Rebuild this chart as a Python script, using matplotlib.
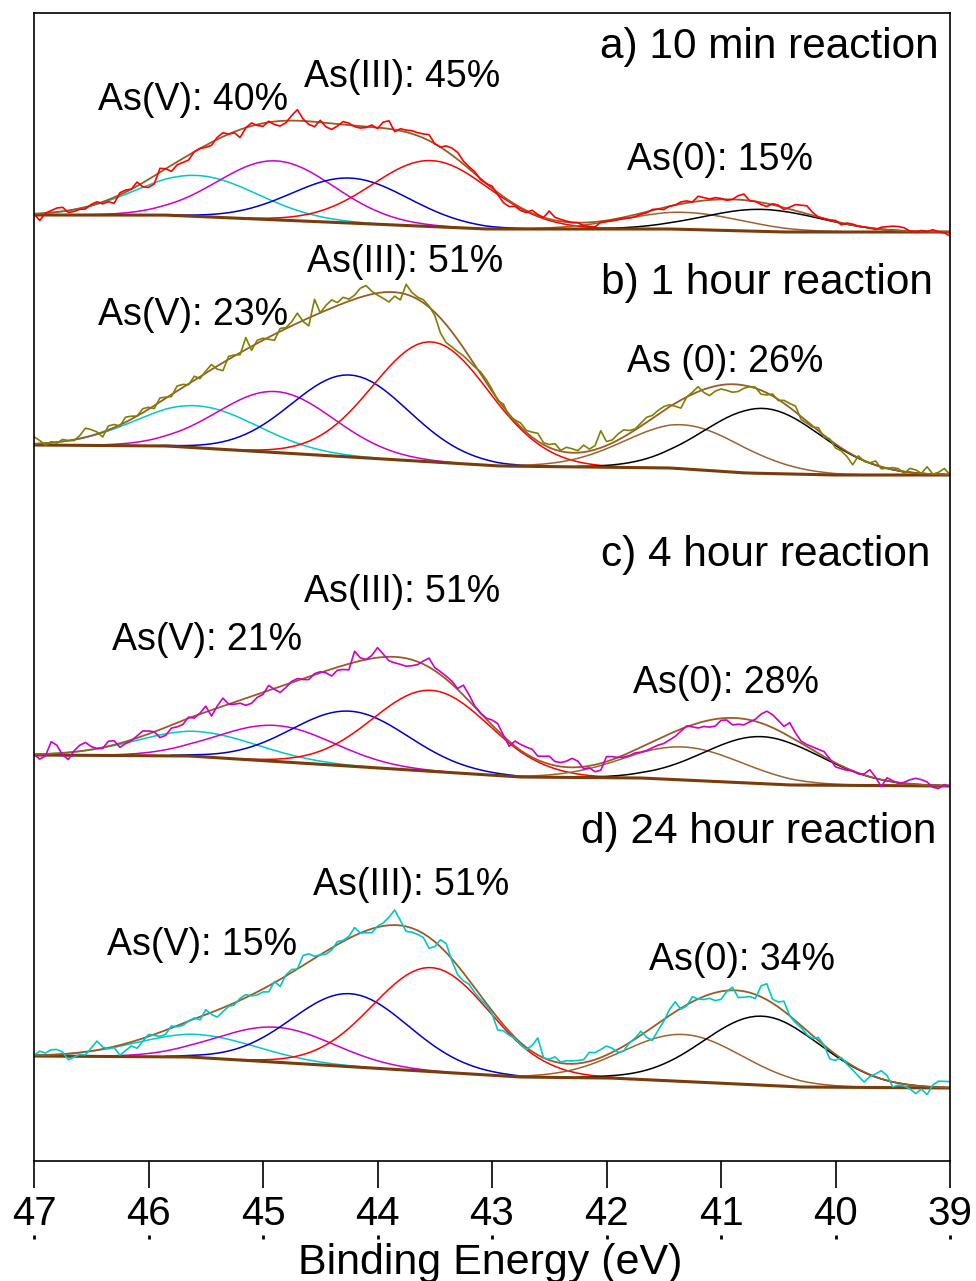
import numpy as np
import matplotlib.pyplot as plt

plt.rcParams['font.family'] = ['Liberation Sans', 'DejaVu Sans']

# binding energy grid of the scans (eV), 0.05 eV steps from 47 down to 39
energy = np.round(47.0 - 0.05 * np.arange(161), 2)

# As 3d fit components: As(V) 3d3/2, As(V) 3d5/2, As(III) 3d3/2, As(III) 3d5/2, As(0) 3d3/2, As(0) 3d5/2
peak_centres = [45.58, 44.89, 44.24, 43.53, 41.33, 40.64]
peak_fwhm = [1.25, 1.2, 1.2, 1.2, 1.2, 1.2]
peak_colours = ['#00c8c8', '#cc00cc', '#0000cc', '#ff0000', '#a0622d', '#000000']

# fitted peak heights (counts above background) for each reaction time
heights_10min = [41, 59, 45, 66, 17, 22]
heights_1h = [42, 61, 82, 120, 44, 65]
heights_4h = [25, 36, 55, 81, 33, 47]
heights_24h = [23, 35, 73, 104, 47, 69]

# Shirley-type background, relative to its level at 47 eV
bg_energy_10min = [47, 45.87, 43.04, 41.44, 40.44, 39]
bg_10min = [0, 0, -14, -14, -17, -17]
bg_energy_1h = [47, 45.84, 42.93, 41.44, 40.78, 40.02, 39]
bg_1h = [0, -1, -21, -23, -28, -30, -30]
bg_energy_4h = [47, 45.64, 42.75, 41.70, 40.39, 39]
bg_4h = [0, -1, -22, -23, -30, -31]
bg_energy_24h = [47, 45.64, 42.75, 41.97, 40.30, 39]
bg_24h = [0, -1, -21, -22, -31, -32]

# measured counts minus the fit envelope
resid_10min = [0, -7, 0, 2, 4, 4, -2, -2, -1, -2, 1, 2, -2, -2, -6, 2, 2, 0, 4, -4,
               -8, -8, 4, 0, -6, -3, -4, -5, 0, 0, -2, -3, 2, 4, 0, -1, -8, 0, 3, -1,
               -3, 1, -3, -5, -2, 5, 11, 2, -3, -5, 2, -4, -6, -2, 3, 2, -1, -2, -1, 2,
               -1, 6, 8, -2, 2, 2, 3, 3, 4, 6, 0, 0, 5, 7, 7, 3, 2, 2, -1, 0,
               2, -2, -6, -6, -2, -3, -2, 3, 1, 0, 8, 3, 2, 1, 0, 0, -3, -4, -5, -1,
               -1, -1, -1, -1, -2, -2, -1, -1, 1, 0, -2, 0, 0, 2, 2, 0, 5, 3, 1, 2,
               1, -1, 0, 4, 6, 0, 0, -2, -3, 1, 1, -2, 2, 6, 7, 8, 3, 0, 0, 0,
               1, -2, 1, 1, 0, 0, 0, -1, 2, 3, 4, 4, 3, 0, -1, 1, 0, 2, 0, -1, -4]
resid_1h = [7, 3, -2, 1, -1, 2, 0, -1, 3, 9, 6, 2, -5, 4, 3, -1, 5, 3, 0, 4,
            2, -3, 4, 1, -2, 5, 3, -1, 4, -2, 2, 5, -3, -8, 3, 1, -2, 12, -4, 3,
            2, -2, -6, 3, 1, 4, 10, -1, -8, 16, 0, 5, 8, 3, 6, 2, 4, 9, 10, 3,
            -2, -6, -10, -4, -7, 10, 4, 2, 3, 1, -3, -15, -18, -15, -12, -8, -5, -2, 2, 3,
            2, -1, 3, -2, 1, 4, 2, 5, 8, 2, 3, 6, 1, 5, 4, 2, 7, 2, 4, 17,
            4, 3, 6, 7, 3, 1, 3, 5, 3, 4, 4, 2, -3, -8, 0, 2, 5, -3, -8, -5,
            -4, -6, -8, -7, -3, 0, 1, -4, -2, 2, -1, 3, 4, 6, -3, -2, -1, 3, -2, 1,
            -4, -3, -5, -10, 2, -1, 0, 4, -2, 0, 2, 2, -2, 4, 3, 0, 7, 0, 2, 6, 0]
resid_4h = [0, -5, -2, 12, 8, -2, -7, 1, 6, 8, 3, 0, -1, 5, 4, -4, -2, -1, 2, 5,
            3, 0, -8, -8, -3, -4, -4, 1, -2, 1, 6, -6, 2, 8, 0, -2, -3, -7, -7, -3,
            -2, 5, -1, -6, -3, 1, 2, -1, -3, 1, 1, -2, -7, -3, -4, -6, 11, 3, 0, 3,
            10, 3, -4, -6, -7, -8, -6, -3, 3, 9, 3, 3, 3, 3, 1, 10, 6, 1, 0, 1,
            5, 7, 1, -5, 5, 6, 7, 8, 4, 6, 8, 4, 4, 6, 9, 6, -2, -2, -7, -7,
            5, 3, 0, -2, -3, -3, -5, -6, -6, -6, -7, -6, -5, -2, 1, -2, -5, -5, -7, -7,
            -2, -2, -7, -6, -6, -2, 2, 9, 14, 13, 10, 7, 14, 7, 2, 2, 3, 4, 5, 1,
            -4, -3, -2, 0, -1, 1, 7, 1, -7, 3, 1, -1, 1, 4, 6, 5, 3, -2, -3, 1, -1]
resid_24h = [0, 4, 2, 5, 5, 2, -6, -4, -2, -3, 3, 9, 2, -1, -1, -10, -7, -4, -8, -3,
             2, -1, -4, -4, 2, -1, -2, 0, 1, -3, 5, -2, -7, -4, -1, -2, 2, 3, -1, -3,
             -3, -6, 1, -7, 1, 3, 0, 10, 8, 2, 0, -3, -2, 3, 1, 2, 8, 0, -2, -4,
             1, 3, 8, 15, 5, -5, -4, -4, -4, -11, -5, 7, 9, -2, -9, -8, -4, -5, -4, -2,
             -3, -12, -6, -4, -1, -2, -2, 6, 17, 0, 1, 5, 1, 3, 3, 3, 3, 9, 7, 8,
             9, 4, -3, -5, 0, 1, 4, -6, -13, -7, -2, 6, 10, -1, -1, 5, 0, -3, -4, -8,
             -8, -1, 3, -7, -6, -4, -4, 11, 16, 4, 5, 10, 0, -2, -2, -4, -3, 3, 0, -9,
             -6, 1, -2, -4, -7, -10, -2, 3, 8, 5, -5, -2, -2, -4, -8, -3, -8, 2, 6, 6, 6]

titles = ['a) 10 min reaction', 'b) 1 hour reaction', 'c) 4 hour reaction', 'd) 24 hour reaction']
state_labels = [['As(V): 40%', 'As(III): 45%', 'As(0): 15%'],
                ['As(V): 23%', 'As(III): 51%', 'As (0): 26%'],
                ['As(V): 21%', 'As(III): 51%', 'As(0): 28%'],
                ['As(V): 15%', 'As(III): 51%', 'As(0): 34%']]
data_colours = ['#ff0000', '#808000', '#cc00cc', '#00c8c8']

panels = [
    (heights_10min, bg_energy_10min, bg_10min, resid_10min),
    (heights_1h, bg_energy_1h, bg_1h, resid_1h),
    (heights_4h, bg_energy_4h, bg_4h, resid_4h),
    (heights_24h, bg_energy_24h, bg_24h, resid_24h),
]

# layout: vertical offset of each spectrum and where its labels go
offsets = [946, 716, 406, 105]
title_pos = [(39.10, 1114), (39.15, 878), (39.17, 606), (39.12, 329)]
label_pos = [[(46.44, 1061), (44.64, 1084), (41.82, 1001)],
             [(46.44, 846), (44.62, 899), (41.82, 799)],
             [(46.32, 521), (44.64, 569), (41.77, 478)],
             [(46.36, 216), (44.56, 276), (41.63, 201)]]

fig = plt.figure(figsize=(9.76, 12.81), dpi=100)
ax = fig.add_axes([34 / 976, 1 - 1161 / 1281, 916 / 976, 1148 / 1281])

for k, (heights, bg_e, bg_v, resid) in enumerate(panels):
    bg = offsets[k] + np.interp(energy[::-1], bg_e[::-1], bg_v[::-1])[::-1]
    envelope = bg.copy()
    for c, w, h, col in zip(peak_centres, peak_fwhm, heights, peak_colours):
        sigma = w / 2.3548
        g = h * np.exp(-0.5 * ((energy - c) / sigma) ** 2)
        envelope += g
        ax.plot(energy, np.where(g > 0.4, bg + g, np.nan), color=col, lw=1.1)
    ax.plot(energy, bg, color='#7a3c0a', lw=2.2)
    ax.plot(energy, envelope, color='#9a5b26', lw=1.3)
    ax.plot(energy, envelope + np.array(resid), color=data_colours[k], lw=1.2)

    tx, ty = title_pos[k]
    ax.text(tx, ty, titles[k], ha='right', va='center', fontsize=30.5)
    for text, (lx, ly) in zip(state_labels[k], label_pos[k]):
        ax.text(lx, ly, text, ha='left', va='center', fontsize=27)

ax.set_xlim(47, 39)
ax.set_ylim(0, 1148)
ax.set_yticks([])
ax.set_xticks(range(47, 38, -1))
ax.tick_params(axis='x', direction='out', length=19.5, width=1.2, pad=5, labelsize=29)
for sp in ax.spines.values():
    sp.set_linewidth(1.2)

# small marks under the tick labels
sec = ax.secondary_xaxis(-0.066)
sec.set_xticks(range(47, 38, -1))
sec.tick_params(direction='inout', length=2.5, width=2, labelbottom=False)
sec.spines['bottom'].set_visible(False)

fig.text(490 / 976, 1 - 1274 / 1281, 'Binding Energy (eV)', ha='center', va='baseline', fontsize=31)

fig.savefig('out.png', dpi=100)
